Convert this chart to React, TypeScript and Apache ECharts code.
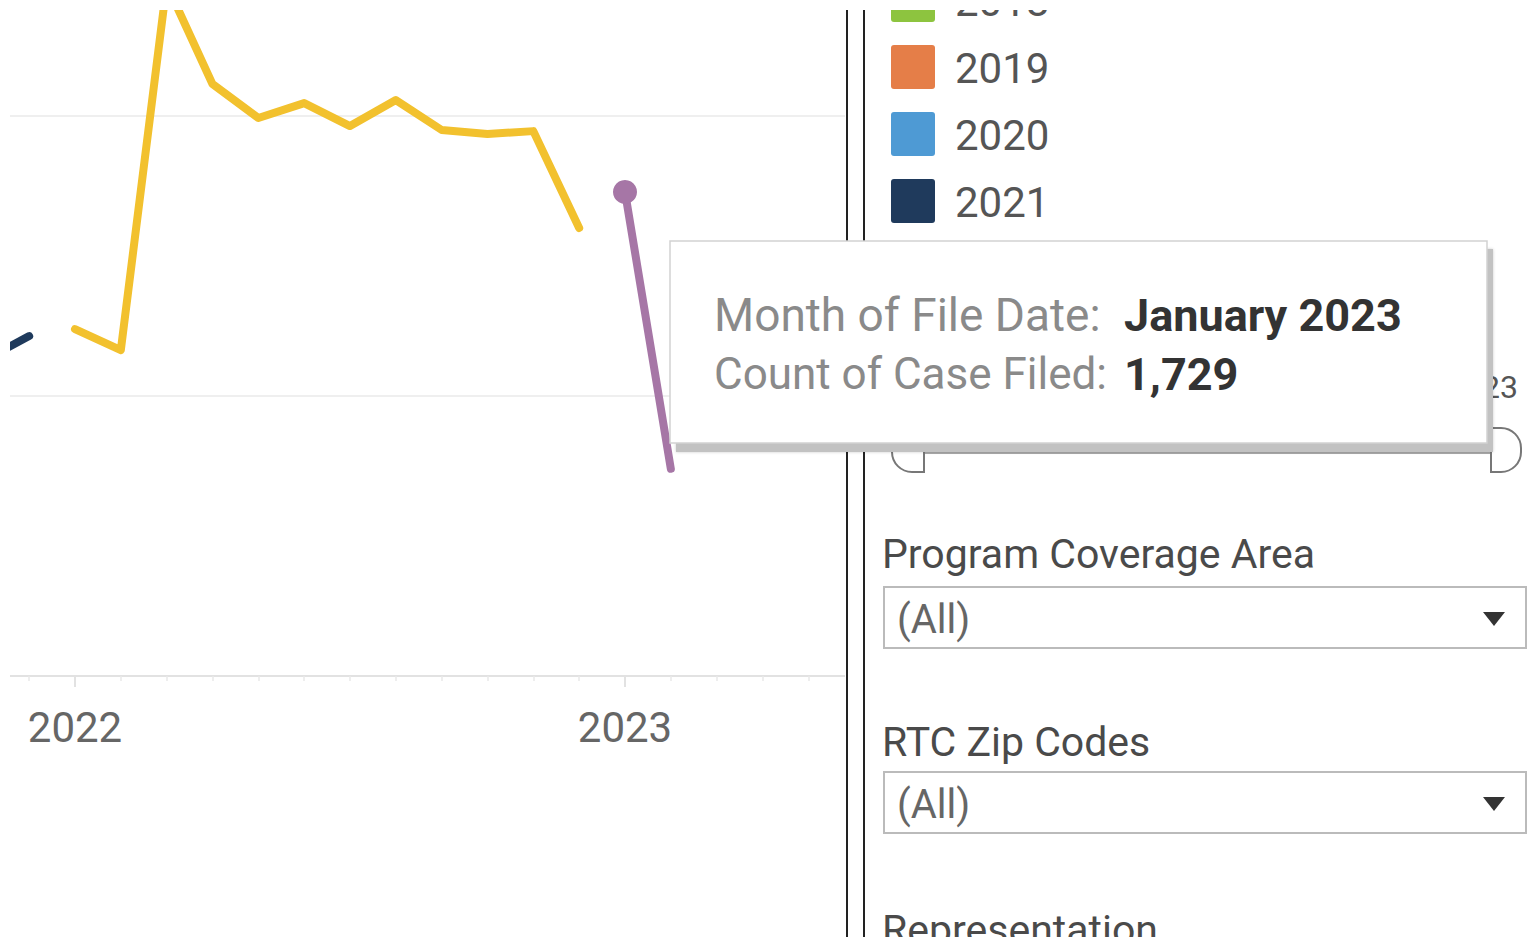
import React, { useEffect, useRef } from "react";
import * as echarts from "echarts";

// ---- data ----
const seriesYears = [2021, 2022, 2023];
const months2021 = [10, 11];
const values2021 = [1126, 1214];
const months2022 = [0, 1, 2, 3, 4, 5, 6, 7, 8, 9, 10, 11];
const values2022 = [1239, 1164, 2470, 2114, 1993, 2046, 1964, 2057, 1950, 1936, 1946, 1600];
const months2023 = [0, 1];
const values2023 = [1729, 740];
const seriesColors = ["#1f3a5c", "#f2c12e", "#a676a6"];

const legendYears = ["2018", "2019", "2020", "2021"];
const legendColors = ["#8dc43f", "#e57e48", "#4e9ad4", "#1f3a5c"];

const tooltipLabels = ["Month of File Date:", "Count of Case Filed:"];
const tooltipValues = ["January 2023", "1,729"];
const sliderEndLabel = "2023";
const filterTitles = ["Program Coverage Area", "RTC Zip Codes", "Representation"];
const filterValue = "(All)";

const baseYear = 2021;
const FONT = "Roboto";

function toPoints(year: number, months: number[], values: number[]) {
  return months.map((m, i) => [(year - baseYear) * 12 + m, values[i]]);
}

export default function App() {
  const ref = useRef<HTMLDivElement>(null);

  useEffect(() => {
    if (!ref.current) return;
    const chart = echarts.init(ref.current, undefined, { renderer: "svg" });

    const d2021 = toPoints(2021, months2021, values2021);
    const d2022 = toPoints(2022, months2022, values2022);
    const d2023 = toPoints(2023, months2023, values2023).map((p, i) =>
      i === 0 ? { value: p, symbol: "circle", symbolSize: 24 } : { value: p, symbol: "none" }
    );

    const lineSeries = (name: string, data: any[], color: string) => ({
      type: "line",
      name,
      data,
      showSymbol: true,
      symbol: "none",
      clip: true,
      itemStyle: { color },
      lineStyle: { color, width: 8, cap: "round", join: "round" },
      z: 3,
    });

    const graphics: any[] = [];
    graphics.push(
      { type: "rect", z: 50, shape: { x: 0, y: 0, width: 10, height: 947 }, style: { fill: "#fff" } },
      { type: "rect", z: 50, shape: { x: 845, y: 0, width: 684, height: 947 }, style: { fill: "#fff" } }
    );
    graphics.push(
      { type: "line", z: 55, shape: { x1: 847, y1: 10, x2: 847, y2: 937 }, style: { stroke: "#222", lineWidth: 2 } },
      { type: "line", z: 55, shape: { x1: 864, y1: 10, x2: 864, y2: 937 }, style: { stroke: "#222", lineWidth: 2 } }
    );
    legendYears.forEach((y, i) => {
      const top = -22 + i * 67;
      graphics.push({
        type: "rect",
        z: 60,
        shape: { x: 891, y: top, width: 44, height: 44, r: 3 },
        style: { fill: legendColors[i] },
      });
      graphics.push({
        type: "text",
        z: 60,
        x: 955,
        y: top + 23,
        style: { text: y, font: `42px ${FONT}`, fill: "#555", verticalAlign: "middle", align: "left" },
      });
    });
    graphics.push(
      {
        type: "text",
        z: 60,
        x: 1518,
        y: 387,
        style: { text: sliderEndLabel, font: `32px ${FONT}`, fill: "#555", align: "right", verticalAlign: "middle" },
      },
      { type: "rect", z: 60, shape: { x: 925, y: 445, width: 566, height: 9 }, style: { fill: "#a9a9a9" } },
      {
        type: "rect",
        z: 61,
        shape: { x: 892, y: 428, width: 32, height: 44, r: [20, 0, 0, 20] },
        style: { fill: "#fff", stroke: "#777", lineWidth: 2 },
      },
      {
        type: "rect",
        z: 61,
        shape: { x: 1491, y: 428, width: 30, height: 44, r: [0, 20, 20, 0] },
        style: { fill: "#fff", stroke: "#777", lineWidth: 2 },
      }
    );
    const titleY = [554, 742, 930];
    filterTitles.forEach((t, i) => {
      graphics.push({
        type: "text",
        z: 60,
        x: 882,
        y: titleY[i],
        style: { text: t, font: `41px ${FONT}`, fill: "#4a4a4a", verticalAlign: "middle", align: "left" },
      });
    });
    [587, 772].forEach((top) => {
      graphics.push({
        type: "rect",
        z: 60,
        shape: { x: 884, y: top, width: 642, height: 61 },
        style: { fill: "#fff", stroke: "#bbb", lineWidth: 2 },
      });
      graphics.push({
        type: "text",
        z: 61,
        x: 897,
        y: top + 32,
        style: { text: filterValue, font: `40px ${FONT}`, fill: "#666", verticalAlign: "middle", align: "left" },
      });
      graphics.push({
        type: "polygon",
        z: 61,
        shape: { points: [[1483, top + 25], [1505, top + 25], [1494, top + 39]] },
        style: { fill: "#333" },
      });
    });
    graphics.push(
      {
        type: "rect",
        z: 80,
        shape: { x: 676, y: 249, width: 817, height: 203 },
        style: { fill: "#c2c2c2", shadowBlur: 3, shadowColor: "rgba(0,0,0,0.2)" },
      },
      {
        type: "rect",
        z: 81,
        shape: { x: 670, y: 241, width: 817, height: 202 },
        style: { fill: "#fff", stroke: "#d2d2d2", lineWidth: 1.5 },
      }
    );
    const tipY = [315, 374];
    const tipSize = [46, 44];
    tooltipLabels.forEach((t, i) => {
      graphics.push({
        type: "text",
        z: 82,
        x: 714,
        y: tipY[i],
        style: { text: t, font: `${tipSize[i]}px ${FONT}`, fill: "#8a8a8a", verticalAlign: "middle", align: "left" },
      });
      graphics.push({
        type: "text",
        z: 82,
        x: 1124,
        y: tipY[i],
        style: { text: tooltipValues[i], font: `bold 45px ${FONT}`, fill: "#333", verticalAlign: "middle", align: "left" },
      });
    });
    graphics.push(
      { type: "rect", z: 95, shape: { x: 0, y: 0, width: 1529, height: 10 }, style: { fill: "#fff" } },
      { type: "rect", z: 95, shape: { x: 0, y: 937, width: 1529, height: 10 }, style: { fill: "#fff" } }
    );

    chart.setOption({
      animation: false,
      backgroundColor: "#fff",
      grid: {
        left: -475,
        top: -164,
        width: 1650,
        height: 840,
        containLabel: false,
        outerBoundsMode: "none",
      },
      xAxis: {
        type: "value",
        min: 0,
        max: 36,
        interval: 12,
        axisLine: { show: true, lineStyle: { color: "#e2e2e2", width: 2 } },
        axisTick: { show: true, length: 11, lineStyle: { color: "#e2e2e2", width: 2 } },
        minorTick: { show: true, splitNumber: 12, length: 5, lineStyle: { color: "#e8e8e8", width: 1.5 } },
        splitLine: { show: false },
        axisLabel: {
          showMinLabel: false,
          showMaxLabel: false,
          margin: 30,
          color: "#666",
          fontFamily: FONT,
          fontSize: 42,
          formatter: (v: number) => String(baseYear + v / 12),
        },
      },
      yAxis: {
        type: "value",
        min: 0,
        max: 3000,
        interval: 1000,
        axisLine: { show: false },
        axisTick: { show: false },
        axisLabel: { show: false },
        splitLine: { show: true, lineStyle: { color: "#efefef", width: 2 } },
      },
      series: [
        lineSeries(String(seriesYears[0]), d2021, seriesColors[0]),
        lineSeries(String(seriesYears[1]), d2022, seriesColors[1]),
        lineSeries(String(seriesYears[2]), d2023, seriesColors[2]),
      ],
      graphic: { elements: graphics },
    });

    return () => chart.dispose();
  }, []);

  return (
    <div
      ref={ref}
      style={{ position: "fixed", left: 0, top: 0, width: 1529, height: 947, background: "#fff" }}
    />
  );
}
